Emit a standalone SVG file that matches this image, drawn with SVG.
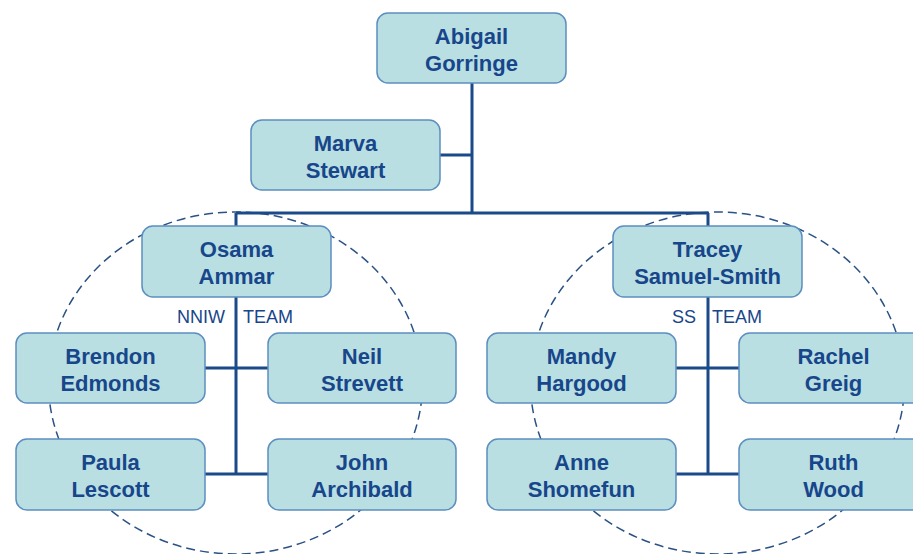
<svg xmlns="http://www.w3.org/2000/svg" width="913" height="554" viewBox="0 0 913 554">
<style>
.box{fill:#b9dfe3;stroke:#5c8fc0;stroke-width:1.5}
.nm{font-family:"Liberation Sans",Arial,sans-serif;font-weight:bold;font-size:22px;fill:#17468a;text-anchor:middle}
.lbl{font-family:"Liberation Sans",Arial,sans-serif;font-size:18px;fill:#17468a}
.ln{stroke:#1b4a8a;stroke-width:3;fill:none}
.team{fill:none;stroke:#2a5285;stroke-width:1.5;stroke-dasharray:9 5}
</style>
<rect width="913" height="554" fill="#ffffff"/>
<g id="teams">
<ellipse class="team" cx="235.5" cy="383" rx="187" ry="171"/>
<ellipse class="team" cx="717.5" cy="383" rx="187" ry="171"/>
</g>
<g id="connectors">
<path class="ln" d="M472 83V213M440 155H472M236 213H708M236 213V226M708 213V226"/>
<path class="ln" d="M236 297V474M205 368H268M205 474H268"/>
<path class="ln" d="M708 297V474M676 368H739M676 474H739"/>
</g>
<g id="labels">
<text class="lbl" x="225" y="323" text-anchor="end">NNIW</text>
<text class="lbl" x="243" y="323">TEAM</text>
<text class="lbl" x="696" y="323" text-anchor="end">SS</text>
<text class="lbl" x="712" y="323">TEAM</text>
</g>
<g id="abigail"><rect class="box" x="377" y="13" width="189" height="70" rx="11"/><text class="nm" x="471.5" y="44">Abigail</text><text class="nm" x="471.5" y="71">Gorringe</text></g>
<g id="marva"><rect class="box" x="251" y="120" width="189" height="70" rx="11"/><text class="nm" x="345.5" y="151">Marva</text><text class="nm" x="345.5" y="178">Stewart</text></g>
<g id="osama"><rect class="box" x="142" y="226" width="189" height="71" rx="11"/><text class="nm" x="236.5" y="257">Osama</text><text class="nm" x="236.5" y="284">Ammar</text></g>
<g id="tracey"><rect class="box" x="613" y="226" width="189" height="71" rx="11"/><text class="nm" x="707.5" y="257">Tracey</text><text class="nm" x="707.5" y="284">Samuel-Smith</text></g>
<g id="brendon"><rect class="box" x="16" y="333" width="189" height="70" rx="11"/><text class="nm" x="110.5" y="364">Brendon</text><text class="nm" x="110.5" y="391">Edmonds</text></g>
<g id="neil"><rect class="box" x="268" y="333" width="188" height="70" rx="11"/><text class="nm" x="362" y="364">Neil</text><text class="nm" x="362" y="391">Strevett</text></g>
<g id="paula"><rect class="box" x="16" y="439" width="189" height="71" rx="11"/><text class="nm" x="110.5" y="470">Paula</text><text class="nm" x="110.5" y="497">Lescott</text></g>
<g id="john"><rect class="box" x="268" y="439" width="188" height="71" rx="11"/><text class="nm" x="362" y="470">John</text><text class="nm" x="362" y="497">Archibald</text></g>
<g id="mandy"><rect class="box" x="487" y="333" width="189" height="70" rx="11"/><text class="nm" x="581.5" y="364">Mandy</text><text class="nm" x="581.5" y="391">Hargood</text></g>
<g id="rachel"><rect class="box" x="739" y="333" width="189" height="70" rx="11"/><text class="nm" x="833.5" y="364">Rachel</text><text class="nm" x="833.5" y="391">Greig</text></g>
<g id="anne"><rect class="box" x="487" y="439" width="189" height="71" rx="11"/><text class="nm" x="581.5" y="470">Anne</text><text class="nm" x="581.5" y="497">Shomefun</text></g>
<g id="ruth"><rect class="box" x="739" y="439" width="189" height="71" rx="11"/><text class="nm" x="833.5" y="470">Ruth</text><text class="nm" x="833.5" y="497">Wood</text></g>
</svg>
